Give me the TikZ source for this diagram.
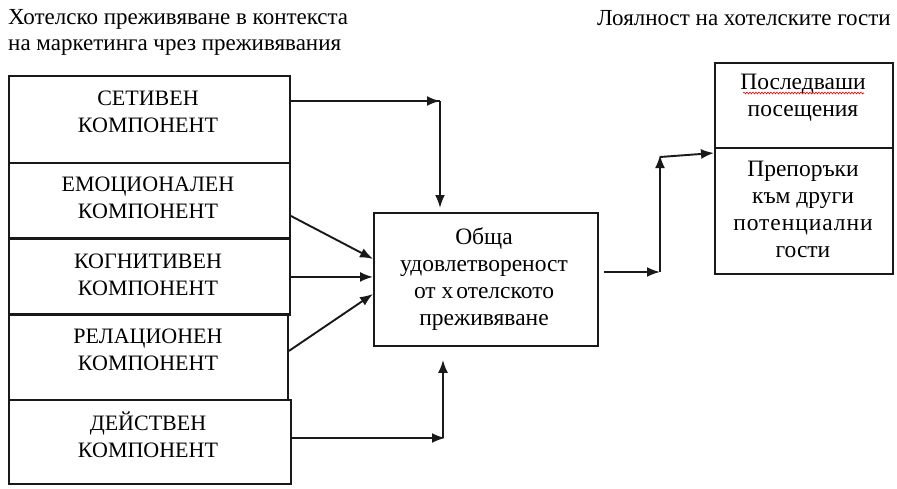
\documentclass[tikz,border=0pt]{standalone}
\usepackage{fontspec}
\setmainfont{Liberation Serif}
\usetikzlibrary{arrows.meta,decorations.pathmorphing}
\begin{document}
\begin{tikzpicture}[x=1pt,y=-1pt,
  box/.style={draw=black!90, line width=1.9pt, rectangle, inner sep=0pt, anchor=north west},
  txt/.style={align=center, inner sep=0pt, font=\fontsize{22}{27}\selectfont},
  ltxt/.style={align=center, inner sep=0pt, font=\fontsize{23.5}{27}\selectfont},
  ttl/.style={anchor=base west, inner sep=0pt, font=\fontsize{23}{26}\selectfont},
  arr/.style={line width=1.9pt, draw=black!90, -{Latex[length=13pt,width=10pt]}},
  ln/.style={line width=1.9pt, draw=black!90}]
\fill[white] (0,0) rectangle (897,488);
\useasboundingbox (0,0) rectangle (897,488);
% titles
\node[ttl] (tl1) at (8,24) {Хотелско преживяване в контекста};
\node[ttl] (tl2) at (8,50) {на маркетинга чрез преживявания};
\node[ttl] (tr) at (597,25) {Лоялност на хотелските гости};
% left boxes
\node[box, minimum width=281pt, minimum height=87pt] (b1) at (8,75) {};
\node[box, minimum width=281pt, minimum height=75pt] (b2) at (8,162) {};
\node[box, minimum width=281pt, minimum height=76pt] (b3) at (8,238) {};
\node[box, minimum width=279pt, minimum height=86pt] (b4) at (8,313) {};
\node[box, minimum width=282pt, minimum height=84pt] (b5) at (8,399) {};
\node[txt] (t1) at (148,112) {СЕТИВЕН\\КОМПОНЕНТ};
\node[txt] (t2) at (148,198) {ЕМОЦИОНАЛЕН\\КОМПОНЕНТ};
\node[txt] (t3) at (148,275) {КОГНИТИВЕН\\КОМПОНЕНТ};
\node[txt] (t4) at (148,350) {РЕЛАЦИОНЕН\\КОМПОНЕНТ};
\node[txt] (t5) at (148,435) {ДЕЙСТВЕН\\КОМПОНЕНТ};
% central box
\node[box, minimum width=224pt, minimum height=133pt] (obs) at (373,212) {};
\node[ltxt] (to) at (484,279) {Обща\\удовлетвореност\\от х\kern3pt отелското\\преживяване};
% right boxes
\node[box, minimum width=178pt, minimum height=85pt] (r1) at (714,62) {};
\node[box, minimum width=178pt, minimum height=126pt] (r2) at (714,147) {};
\node[ltxt] (tr1) at (803,98) {Последваши\\посещения};
\node[ltxt] (tr2) at (803,209) {Препоръки\\към други\\{\addfontfeature{LetterSpace=4}потенциални}\\гости};
\draw[red, line width=0.6pt, decorate, decoration={snake, amplitude=0.9pt, segment length=3pt}] (743,93) -- (864,93);
% connectors
\coordinate (k1) at (440,101);
\draw[ln] (b1.east |- k1) -- (k1);
\draw[arr] ([xshift=-13pt]k1) -- (k1);
\draw[arr, shorten >=4pt] (k1) -- (k1 |- obs.north);
\draw[arr] ([yshift=-15.5pt]b2.east) -- ([yshift=20.5pt]obs.west);
\draw[arr] (b3.east) -- (b3.east -| obs.west);
\draw[arr] ([yshift=6pt]b4.east) -- ([yshift=-14.5pt]obs.west);
\coordinate (k5) at (445,438);
\draw[arr] (b5.east |- k5) -- (k5);
\coordinate (k5b) at (443,438);
\draw[arr, shorten >=13pt] (k5b) -- (k5b |- obs.south);
\coordinate (k6) at (660,272);
\coordinate (k7) at (660,155);
\draw[arr, shorten <=5pt] (obs.east |- k6) -- (k6);
\draw[arr] (k6) -- (k7);
\draw[arr] ([yshift=-2pt]k7) -- ([yshift=-6pt]r2.north west);
\end{tikzpicture}
\end{document}
